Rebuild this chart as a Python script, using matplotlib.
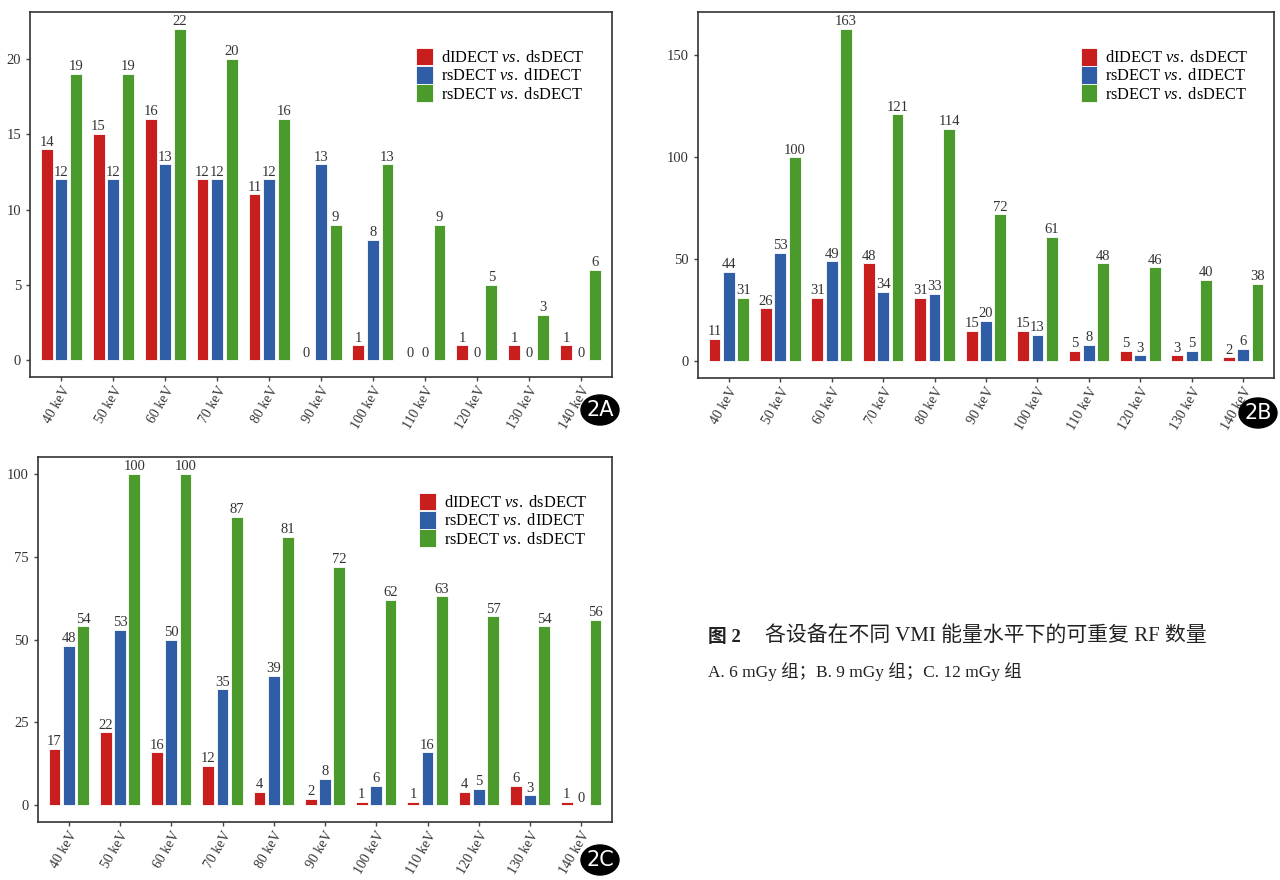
import numpy as np
import matplotlib.pyplot as plt
from matplotlib.patches import Ellipse

plt.rcParams['font.family'] = ['Liberation Serif', 'Noto Sans CJK SC']
plt.rcParams['mathtext.fontset'] = 'custom'
plt.rcParams['mathtext.rm'] = 'Liberation Serif'
plt.rcParams['mathtext.it'] = 'Liberation Serif:italic'

energies = ['40 keV', '50 keV', '60 keV', '70 keV', '80 keV', '90 keV',
            '100 keV', '110 keV', '120 keV', '130 keV', '140 keV']
series_names = [r'dIDECT $\it{vs.}$ dsDECT',
                r'rsDECT $\it{vs.}$ dIDECT',
                r'rsDECT $\it{vs.}$ dsDECT']

# 2A: 6 mGy
a_red = [14, 15, 16, 12, 11, 0, 1, 0, 1, 1, 1]
a_blue = [12, 12, 13, 12, 12, 13, 8, 0, 0, 0, 0]
a_green = [19, 19, 22, 20, 16, 9, 13, 9, 5, 3, 6]

# 2B: 9 mGy
b_red = [11, 26, 31, 48, 31, 15, 15, 5, 5, 3, 2]
b_blue = [44, 53, 49, 34, 33, 20, 13, 8, 3, 5, 6]
b_green = [31, 100, 163, 121, 114, 72, 61, 48, 46, 40, 38]

# 2C: 12 mGy
c_red = [17, 22, 16, 12, 4, 2, 1, 1, 4, 6, 1]
c_blue = [48, 53, 50, 35, 39, 8, 6, 16, 5, 3, 0]
c_green = [54, 100, 100, 87, 81, 72, 62, 63, 57, 54, 56]

colors = ['#C81E1E', '#2F5DA6', '#4A9B2B']
frame_col = '#333333'
tick_col = '#444444'

fig = plt.figure(figsize=(12.8, 8.8), dpi=100)


def panel(rect, data, yticks, tag, tag_xy):
    ax = fig.add_axes(rect)
    x = np.arange(len(energies))
    ymax = max(max(d) for d in data)
    offs = [-0.28, 0, 0.28]
    for vals, off, col, name in zip(data, offs, colors, series_names):
        bars = ax.bar(x + off, vals, width=0.23, color=col, edgecolor='white',
                      linewidth=0.6, label=name)
        ax.bar_label(bars, labels=[str(v) for v in vals], padding=0.5,
                     fontsize=10.5, color='#333333')
    ax.set_xlim(-0.6, len(energies) - 0.4)
    ax.set_ylim(-0.05 * ymax, 1.05 * ymax)
    ax.set_yticks(yticks)
    ax.set_xticks(x)
    ax.set_xticklabels(energies, rotation=60, ha='right', rotation_mode='anchor')
    ax.tick_params(axis='both', labelsize=10.5, colors=tick_col, length=3,
                   width=1.0, labelcolor='#333333')
    ax.tick_params(axis='x', labelsize=10, pad=2)
    for s in ax.spines.values():
        s.set_color(frame_col)
        s.set_linewidth(1.2)
    ax.legend(loc='upper left', bbox_to_anchor=(0.65, 0.925), frameon=False,
              fontsize=11.8, handlelength=1.0, handleheight=1.3,
              labelspacing=0.0, handletextpad=0.5, borderpad=0)
    # panel badge
    e = Ellipse(tag_xy, 38 / 1280, 30 / 880, transform=fig.transFigure,
                facecolor='black', edgecolor='black', clip_on=False)
    fig.add_artist(e)
    fig.text(tag_xy[0], tag_xy[1], tag, color='white', fontsize=15,
             ha='center', va='center', family='DejaVu Sans')
    return ax


panel([30 / 1280, 503 / 880, 582 / 1280, 365 / 880], [a_red, a_blue, a_green],
      [0, 5, 10, 15, 20], '2A', (600 / 1280, 1 - 410 / 880))
panel([698 / 1280, 502 / 880, 576 / 1280, 366 / 880], [b_red, b_blue, b_green],
      [0, 50, 100, 150], '2B', (1258 / 1280, 1 - 413 / 880))
panel([38 / 1280, 58 / 880, 574 / 1280, 365 / 880], [c_red, c_blue, c_green],
      [0, 25, 50, 75, 100], '2C', (600 / 1280, 1 - 860 / 880))

fig.text(708 / 1280, 1 - 637 / 880, '图 2', fontsize=13.5, fontweight='bold',
         va='center', ha='left', color='#222222')
fig.text(765 / 1280, 1 - 637 / 880, '各设备在不同 VMI 能量水平下的可重复 RF 数量',
         fontsize=15, va='center', ha='left', color='#222222')
fig.text(708 / 1280, 1 - 672 / 880, 'A. 6 mGy 组；B. 9 mGy 组；C. 12 mGy 组',
         fontsize=12.5, va='center', ha='left', color='#222222')

plt.savefig('out.png', dpi=100)
